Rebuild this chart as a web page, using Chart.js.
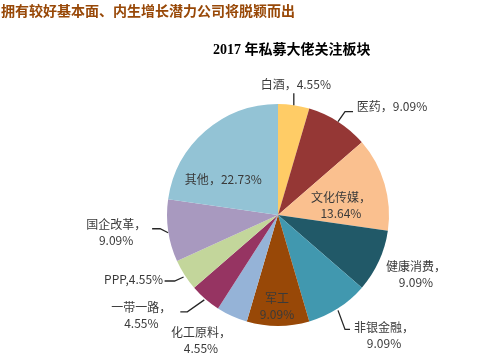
<!DOCTYPE html>
<html>
<head>
<meta charset="utf-8">
<script src="https://cdn.jsdelivr.net/npm/chart.js@4.4.0/dist/chart.umd.min.js"></script>
<style>
  html, body { margin: 0; padding: 0; background: #fff; }
  #wrap { position: relative; width: 482px; height: 359px; }
  #head { position: absolute; left: 1px; top: 0px; font: bold 14px "Noto Sans CJK SC", sans-serif; color: #984807; white-space: nowrap; }
  #title { position: absolute; left: 213px; top: 38px; font: bold 14px "Liberation Serif", "Noto Sans CJK SC", serif; color: #000; white-space: nowrap; }
</style>
</head>
<body>
<div id="wrap">
  <canvas id="pie" width="482" height="359"></canvas>
  <div id="head">拥有较好基本面、内生增长潜力公司将脱颖而出</div>
  <div id="title">2017 年私募大佬关注板块</div>
</div>
<script>
// 板块 + 占比
var sectors = ['白酒', '医药', '文化传媒', '健康消费', '非银金融', '军工', '化工原料', '一带一路', 'PPP', '国企改革', '其他'];
var shares = [4.55, 9.09, 13.64, 9.09, 9.09, 9.09, 4.55, 4.55, 4.55, 9.09, 22.73];
var sliceColors = ['#FFCC66', '#953735', '#FAC08F', '#215968', '#4198AF', '#984807',
                   '#95B3D7', '#963462', '#C3D69B', '#A899BF', '#93C3D5'];

// 标签摆放：相对扇区外缘中点的偏移，lines = 文字行，lead = 引导线折点
var labelLayout = [
  { dx: 2,   dy: -21, lines: ['白酒，4.55%'], lead: [[0, 0], [0, -12]] },
  { dx: 54,  dy: -15, lines: ['医药，9.09%'], lead: [[0, 0], [7, -10], [15, -10]] },
  { dx: -1,  dy: 9,   lines: ['文化传媒，', '13.64%'], inside: 0.6 },
  { dx: 37,  dy: 13,  lines: ['健康消费，', '9.09%'] },
  { dx: 46,  dy: 27,  lines: ['非银金融，', '9.09%'], lead: [[0, 2], [7, 21], [12, 21]] },
  { dx: -1,  dy: -20, lines: ['军工', '9.09%'] },
  { dx: -31, dy: 24,  lines: ['化工原料，', '4.55%'] },
  { dx: -64, dy: 17,  lines: ['一带一路，', '4.55%'], lead: [[-1, 1], [-18, 13], [-25, 13]] },
  { dx: -51, dy: 4,   lines: ['PPP,4.55%'], lead: [[-1, 2], [-10, 6], [-20, 6]] },
  { dx: -52, dy: 2,   lines: ['国企改革，', '9.09%'], lead: [[0, 2], [-8, -2], [-16, -2]] },
  { dx: -11, dy: 15,  lines: ['其他，22.73%'], inside: 0.6 }
];

var pieLabels = {
  id: 'pieLabels',
  afterDatasetsDraw: function (chart) {
    var ctx = chart.ctx;
    var arcs = chart.getDatasetMeta(0).data;
    ctx.save();
    ctx.font = '12px "Noto Sans CJK SC", sans-serif';
    ctx.textAlign = 'center';
    ctx.textBaseline = 'middle';
    arcs.forEach(function (arc, i) {
      var p = arc.getProps(['x', 'y', 'startAngle', 'endAngle', 'outerRadius'], true);
      var mid = (p.startAngle + p.endAngle) / 2;
      var k = labelLayout[i].inside || 1;
      var bx = p.x + Math.cos(mid) * p.outerRadius * k;
      var by = p.y + Math.sin(mid) * p.outerRadius * k;
      var L = labelLayout[i];
      if (L.lead) {
        ctx.strokeStyle = '#262626';
        ctx.lineWidth = 1.3;
        ctx.beginPath();
        L.lead.forEach(function (pt, j) {
          if (j === 0) ctx.moveTo(bx + pt[0], by + pt[1]);
          else ctx.lineTo(bx + pt[0], by + pt[1]);
        });
        ctx.stroke();
      }
      ctx.fillStyle = '#3a3a3a';
      var n = L.lines.length;
      L.lines.forEach(function (t, j) {
        ctx.fillText(t, bx + L.dx, by + L.dy + (j - (n - 1) / 2) * 16);
      });
    });
    ctx.restore();
  }
};

var ctxPie = document.getElementById('pie').getContext('2d');
var myPie = new Chart(ctxPie, {
  type: 'pie',
  data: {
    labels: sectors,
    datasets: [{
      data: shares,
      backgroundColor: sliceColors,
      borderWidth: 0
    }]
  },
  options: {
    responsive: false,
    animation: false,
    layout: { padding: { left: 167, right: 93, top: 104, bottom: 33 } },
    plugins: {
      legend: { display: false },
      tooltip: { enabled: false }
    }
  },
  plugins: [pieLabels]
});
</script>
</body>
</html>
